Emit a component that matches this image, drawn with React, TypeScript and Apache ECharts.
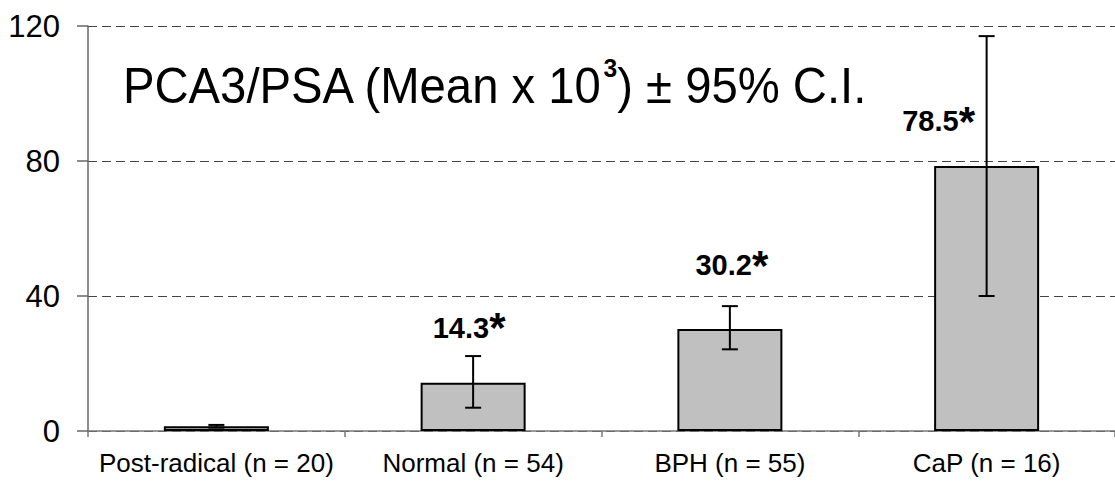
import React, { useEffect, useRef } from "react";
import * as echarts from "echarts";

const categories = ["Post-radical (n = 20)", "Normal (n = 54)", "BPH (n = 55)", "CaP (n = 16)"];
const means = [1.4, 14.3, 30.2, 78.5];
const ciLow = [1.0, 6.9, 24.2, 40.0];
const ciHigh = [1.8, 22.2, 37.0, 117.0];
const valueLabels = ["", "14.3", "30.2", "78.5"];
const yMin = 0;
const yMax = 120;
const yInterval = 40;

const FONT = "'Liberation Sans', Arial, sans-serif";
const labelOffsets: (number[] | null)[] = [null, [-4, -41], [2, -50], [-48, -31]];

export default function App() {
  const ref = useRef<HTMLDivElement>(null);
  useEffect(() => {
    if (!ref.current) return;
    const chart = echarts.init(ref.current, null, { renderer: "svg" });
    const option: any = {
      animation: false,
      backgroundColor: "#ffffff",
      grid: { left: 88, width: 1036, top: 26, bottom: 51 },
      graphic: [
        {
          type: "text",
          x: 123,
          y: 86,
          scaleX: 0.945,
          z: 10,
          style: {
            text: "{a|PCA3/PSA (Mean x 10}{s|3}{a|) ± 95% C.I.}",
            verticalAlign: "middle",
            rich: {
              a: { fontSize: 50, fontFamily: FONT, fill: "#000", lineHeight: 62 },
              s: { fontSize: 26, fontWeight: "bold", fontFamily: FONT, fill: "#000", lineHeight: 20, verticalAlign: "top" },
            },
          },
        },
      ],
      xAxis: {
        type: "category",
        data: categories,
        axisLine: { show: true, lineStyle: { color: "#777", width: 1.5 } },
        axisTick: { show: true, length: 6, lineStyle: { color: "#777", width: 1.5 } },
        axisLabel: { color: "#000", fontSize: 26, fontFamily: FONT, margin: 19, interval: 0 },
        splitLine: { show: false },
      },
      yAxis: {
        type: "value",
        min: yMin,
        max: yMax,
        interval: yInterval,
        axisLine: { show: true, lineStyle: { color: "#666", width: 1.5 } },
        axisTick: { show: true, length: 11, lineStyle: { color: "#666", width: 1.5 } },
        axisLabel: { color: "#000", fontSize: 31, fontFamily: FONT, margin: 28 },
        splitLine: { show: true, lineStyle: { color: "#444", width: 1, type: [9, 5] } },
      },
      series: [
        {
          type: "bar",
          barWidth: 105,
          z: 2,
          itemStyle: { color: "#c0c0c0", borderColor: "#000", borderWidth: 2 },
          data: means.map((v, i) => ({
            value: v,
            label: labelOffsets[i]
              ? { show: true, offset: labelOffsets[i] }
              : { show: false },
          })),
          label: {
            show: true,
            position: "top",
            distance: 0,
            formatter: (p: any) =>
              valueLabels[p.dataIndex] ? `{n|${valueLabels[p.dataIndex]}}{s|*}` : "",
            rich: {
              n: { fontSize: 29, fontWeight: "bold", fontFamily: FONT, color: "#000", lineHeight: 28 },
              s: { fontSize: 42, fontWeight: "bold", fontFamily: FONT, color: "#000", lineHeight: 28 },
            },
          },
        },
        {
          type: "custom",
          z: 5,
          encode: { x: 0, y: [1, 2] },
          data: categories.map((_, i) => [i, ciLow[i], ciHigh[i]]),
          renderItem: (params: any, api: any) => {
            const idx = api.value(0);
            const lo = api.coord([idx, api.value(1)]);
            const hi = api.coord([idx, api.value(2)]);
            const half = 8;
            const style = { stroke: "#000", lineWidth: 2, fill: "none" };
            return {
              type: "group",
              children: [
                { type: "line", shape: { x1: hi[0], y1: hi[1], x2: lo[0], y2: lo[1] }, style },
                { type: "line", shape: { x1: hi[0] - half, y1: hi[1], x2: hi[0] + half, y2: hi[1] }, style },
                { type: "line", shape: { x1: lo[0] - half, y1: lo[1], x2: lo[0] + half, y2: lo[1] }, style },
              ],
            };
          },
        },
      ],
    };
    chart.setOption(option);
    return () => chart.dispose();
  }, []);
  return (
    <div
      ref={ref}
      style={{ position: "absolute", left: 0, top: 0, width: 1115, height: 482, background: "#fff" }}
    />
  );
}
